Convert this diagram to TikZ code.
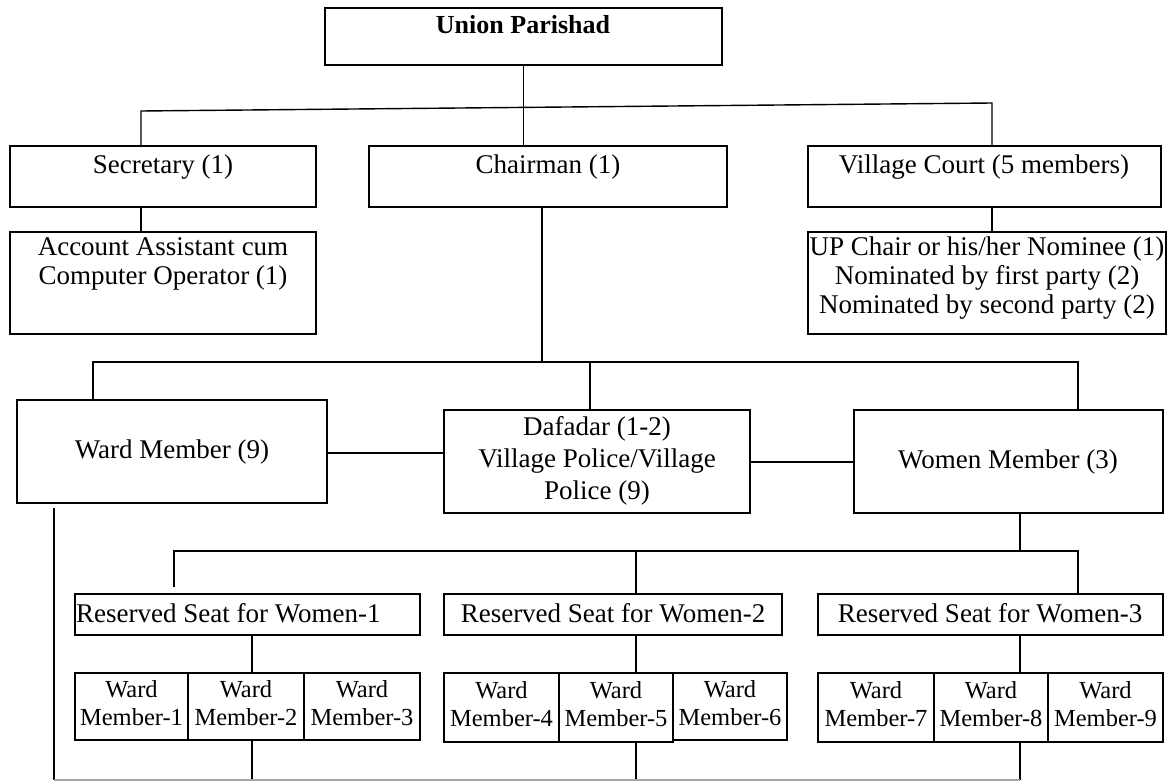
\documentclass[tikz,border=0pt]{standalone}
\usepackage{fontspec}
\setmainfont{Liberation Serif}
\newcommand\UPbox[5]{\node[box, minimum width={#4-#2}, minimum height={#5-#3}] (#1) at (#2,#3) {};}
\begin{document}
\begin{tikzpicture}[x=1pt,y=-1pt,
  box/.style={draw=black, line width=1.4pt, inner sep=0pt, outer sep=0pt, anchor=north west},
  txt/.style={inner sep=0pt, align=center, font=\fontsize{27}{29}\selectfont},
  small/.style={inner sep=0pt, align=center, font=\fontsize{24.5}{28.5}\selectfont},
  link/.style={draw=black, line width=1.4pt}]
\useasboundingbox (0,0) rectangle (1167,781);
% ---------- boxes ----------
\UPbox{up}{325}{8}{722}{65}
\UPbox{sec}{10}{146}{316}{207}
\UPbox{chair}{369}{146}{727}{207}
\UPbox{vc}{808}{146}{1161}{207}
\UPbox{acct}{10}{232}{316}{334}
\UPbox{upc}{808}{232}{1166}{334}
\UPbox{ward}{17}{400}{327}{503}
\UPbox{daf}{444}{410}{750}{513}
\UPbox{women}{854}{410}{1163}{513}
\UPbox{rs1}{75}{594}{420}{635}
\UPbox{rs2}{444}{594}{782}{635}
\UPbox{rs3}{818}{594}{1163}{635}
\UPbox{wm1}{75}{673}{188}{740}
\UPbox{wm2}{188}{673}{304}{740}
\UPbox{wm3}{304}{673}{420}{740}
\UPbox{wm4}{444}{673}{559}{742}
\UPbox{wm5}{559}{673}{673}{742}
\UPbox{wm6}{673}{673}{787}{740}
\UPbox{wm7}{818}{673}{934}{742}
\UPbox{wm8}{934}{673}{1048}{742}
\UPbox{wm9}{1048}{673}{1163}{742}
% ---------- texts ----------
\node[txt, font=\bfseries\fontsize{26}{28}\selectfont] (t-up) at (523,25) {Union Parishad};
\node[txt] (t-sec) at (163,167) {Secretary (1)};
\node[txt] (t-chair) at (548,167) {Chairman (1)};
\node[txt] (t-vc) at (984,167) {Village Court (5 members)};
\node[txt] (t-acct) at (163,264) {Account Assistant cum\\Computer Operator (1)};
\node[txt] (t-upc) at (987,278) {UP Chair or his/her Nominee (1)\\Nominated by first party (2)\\Nominated by second party (2)};
\node[txt] (t-ward) at (172,452) {Ward Member (9)};
\node[txt, font=\fontsize{27}{32}\selectfont] (t-daf) at (597,461) {Dafadar (1-2)\\Village Police/Village\\Police (9)};
\node[txt] (t-women) at (1008,462) {Women Member (3)};
\node[txt, anchor=west] (t-rs1) at (76,613) {Reserved Seat for Women-1};
\node[txt] (t-rs2) at (613,613) {Reserved Seat for Women-2};
\node[txt] (t-rs3) at (990,613) {Reserved Seat for Women-3};
\node[small] (t-wm1) at (131.5,703) {Ward\\Member-1};
\node[small] (t-wm2) at (246,703) {Ward\\Member-2};
\node[small] (t-wm3) at (362,703) {Ward\\Member-3};
\node[small] (t-wm4) at (501.5,704) {Ward\\Member-4};
\node[small] (t-wm5) at (616,704) {Ward\\Member-5};
\node[small] (t-wm6) at (730,703) {Ward\\Member-6};
\node[small] (t-wm7) at (876,704) {Ward\\Member-7};
\node[small] (t-wm8) at (991,704) {Ward\\Member-8};
\node[small] (t-wm9) at (1105.5,704) {Ward\\Member-9};
% ---------- connector points ----------
\coordinate (busL) at (141,111);
\coordinate (busR) at (992,103);
\coordinate (chX) at (542,362);
\coordinate (midL) at (93,362);
\coordinate (midR) at (1078,362);
\coordinate (dafX) at (590,362);
\coordinate (wd) at (0,453);
\coordinate (dw) at (0,462);
\coordinate (lowL) at (174,551);
\coordinate (lowR) at (1078,551);
\coordinate (wX) at (1020,551);
\coordinate (rs2X) at (636,551);
\coordinate (c1) at (252,780);
\coordinate (c2) at (636,780);
\coordinate (c3) at (1020,780);
\coordinate (wlb) at (54,780);
% ---------- connectors ----------
\draw[link] (up.south) -- (up.south |- chair.north);
\draw[link] (sec.north -| busL) -- (busL) -- (busR) -- (vc.north -| busR);
\draw[link] (sec.south -| busL) -- (acct.north -| busL);
\draw[link] (vc.south -| busR) -- (upc.north -| busR);
\draw[link] (chair.south -| chX) -- (chX);
\draw[link] (ward.north -| midL) -- (midL) -- (midR) -- (women.north -| midR);
\draw[link] (dafX) -- (daf.north -| dafX);
\draw[link] (ward.east |- wd) -- (daf.west |- wd);
\draw[link] (daf.east |- dw) -- (women.west |- dw);
\draw[link] (women.south -| wX) -- (wX);
\draw[link, shorten <=7pt] (rs1.north -| lowL) -- (lowL) -- (lowR) -- (rs3.north -| lowR);
\draw[link] (rs2X) -- (rs2.north -| rs2X);
\draw[link] (rs1.south -| c1) -- (wm2.north -| c1);
\draw[link] (rs2.south -| c2) -- (wm5.north -| c2);
\draw[link] (rs3.south -| c3) -- (wm8.north -| c3);
\draw[link] (wm2.south -| c1) -- (c1);
\draw[link] (wm5.south -| c2) -- (c2);
\draw[link] (wm8.south -| c3) -- (c3);
\draw[link, shorten <=5pt] (ward.south -| wlb) -- (wlb);
\draw[line width=1.4pt, draw=black!35] (wlb) -- (c3);
\end{tikzpicture}
\end{document}
